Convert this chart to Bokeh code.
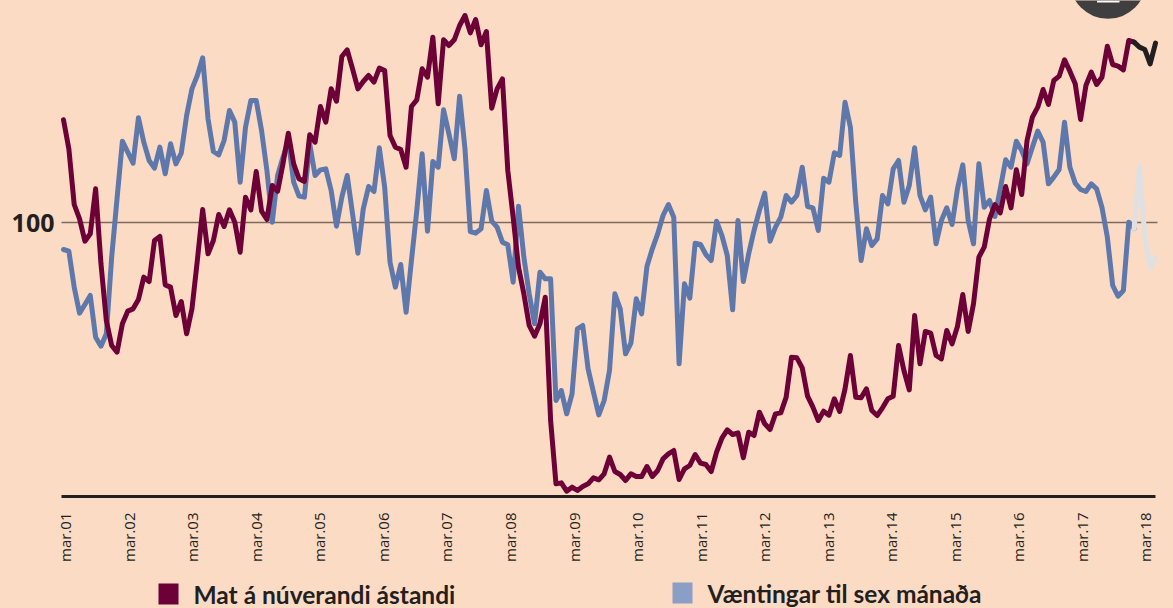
import math
from bokeh.embed import file_html
from bokeh.resources import INLINE
from bokeh.plotting import figure
from bokeh.layouts import column
from bokeh.core.properties import value
from bokeh.models import Range1d, FixedTicker, LinearAxis, GlobalInlineStyleSheet

BG = "#FCDBC5"
MAROON = "#6E0038"
BLUE = "#5E78AC"
SWATCH_BLUE = "#8A9EC6"
DARK = "#231F20"
PALE = "#E0E0E2"

years = ["01","02","03","04","05","06","07","08","09","10","11","12","13","14","15","16","17","18"]
tick_labels = ["mar." + y for y in years]
legend_labels = ["Mat á núverandi ástandi", "Væntingar til sex mánaða"]

# Mat a nuverandi astandi, monthly from March 2001
current = [
 130.8,122.1,105.4,101.1,94.4,96.6,110.1,87.6,70.6,63.1,61.1,69.6,
 73.4,74.1,76.9,83.6,82.3,94.6,95.8,81.3,80.6,72.1,76.3,66.6,
 74.1,88.6,103.9,90.6,94.6,102.4,98.8,103.8,100.1,91.1,107.6,103.8,
 115.3,103.4,100.9,111.1,109.4,117.6,126.8,117.6,113.1,112.3,126.3,124.1,
 134.8,130.1,140.1,136.4,149.8,151.8,146.1,140.1,142.3,144.1,142.1,146.3,
 145.6,126.1,122.6,121.9,116.6,134.8,136.8,146.1,143.6,155.6,135.6,154.8,
 153.1,154.8,159.1,162.1,156.9,160.9,153.3,157.3,134.3,140.1,143.1,115.6,
 101.6,86.6,78.6,69.1,65.9,69.6,77.6,40.6,21.6,21.9,19.4,20.6,
 19.6,20.8,21.6,23.4,22.8,24.6,29.6,25.3,24.4,22.6,24.6,23.8,
 23.8,26.8,23.8,25.6,29.1,30.6,31.6,22.9,26.1,27.1,30.4,27.8,
 27.4,25.3,31.1,35.3,37.8,36.4,36.9,29.4,37.1,36.1,43.1,39.6,
 37.9,42.6,42.9,47.6,59.6,59.4,56.4,47.9,44.6,40.6,43.4,42.2,
 47.1,43.3,50.1,60.1,47.6,47.4,50.1,43.6,42.1,44.4,47.1,47.9,
 63.1,55.6,49.8,72.1,57.6,67.3,66.8,60.1,59.1,67.6,63.6,68.8,
 78.4,67.3,75.6,89.6,92.6,101.1,105.4,102.9,110.8,104.4,115.8,108.4,
 124.6,131.6,134.6,139.9,135.4,142.6,143.9,148.8,145.4,141.6,130.9,141.1,
 145.1,141.4,143.6,152.9,147.4,146.9,145.8,154.6,154.1,152.6,151.9,147.6,
 153.8,
]

# Vaentingar til sex manada, monthly from March 2001
expected = [
 91.9,91.4,80.6,72.8,75.4,78.1,65.6,62.9,66.6,89.6,107.1,124.4,
 121.1,117.8,131.4,124.1,118.6,116.3,122.6,114.6,123.6,117.6,120.8,132.1,
 140.1,144.1,149.4,131.1,121.3,120.3,124.6,133.6,130.1,112.1,128.6,136.6,
 136.6,127.6,115.6,100.1,114.1,119.6,124.6,112.1,107.9,107.6,123.6,114.1,
 115.8,116.1,109.6,98.9,107.6,114.1,102.6,90.8,104.1,110.8,109.3,122.4,
 110.6,88.1,80.6,87.4,73.1,88.6,103.6,120.6,97.4,118.3,116.6,133.8,
 126.6,119.1,137.9,122.1,97.3,96.8,98.1,109.6,100.4,98.6,94.1,93.3,
 82.1,104.9,89.6,78.6,69.6,85.1,83.1,83.1,46.6,49.6,42.6,48.6,
 68.1,69.1,56.1,49.1,42.3,46.6,55.6,78.6,74.1,60.6,63.8,77.1,
 72.6,86.9,92.1,96.6,102.1,105.4,101.6,57.6,81.6,77.3,93.8,93.4,
 90.4,88.6,100.4,96.1,90.1,73.8,100.6,82.3,90.6,97.6,103.6,108.8,
 94.4,98.6,101.6,108.1,106.1,108.1,116.6,104.8,104.4,97.6,113.3,112.1,
 120.9,120.1,136.1,128.6,106.1,88.6,98.1,93.1,95.1,108.1,105.6,116.1,
 118.6,106.1,111.1,122.4,108.1,103.8,107.6,93.6,100.6,104.4,99.4,110.1,
 117.3,100.6,93.6,117.6,104.6,106.6,101.8,110.1,118.8,116.6,124.4,121.6,
 117.6,122.6,127.4,124.1,111.6,113.6,115.9,130.1,116.6,111.8,109.9,109.3,
 111.6,110.1,104.5,95.6,81.1,77.9,79.6,100.1,98.2,117.1,95.6,86.5,
 89.5,
]

months = list(range(len(current)))
LAST = 200  # the final months are overdrawn in a lighter / darker tone

# Layout: month 0 sits at page x=63, 5.353 px per month; 10/3 px per index unit
PX_PER_MONTH = 5.353
W, H = 1173, 608
LEFT, FRAME_H, TOP_H = 58, 496, 572
def xd(px): return (px - 63) / PX_PER_MONTH
def yd(py): return 166.6 - py * 0.3

p = figure(width=W, height=TOP_H, output_backend="svg", toolbar_location=None,
           x_range=Range1d(xd(LEFT), xd(W)), y_range=Range1d(yd(FRAME_H), yd(0)),
           x_axis_location=None, y_axis_location=None,
           min_border_left=LEFT, min_border_right=0, min_border_top=0, min_border_bottom=TOP_H - FRAME_H,
           background_fill_color=BG, border_fill_color=BG, outline_line_color=None,
           stylesheets=[GlobalInlineStyleSheet(css=f"html,body{{margin:0;padding:0;overflow:hidden;background:{BG}}}")])
p.grid.visible = False

# Axes
ticks = [round(xd(64.6 + 63.55 * k), 3) for k in range(len(tick_labels))]
xax = LinearAxis(ticker=FixedTicker(ticks=ticks),
                 major_label_overrides=dict(zip(ticks, tick_labels)),
                 major_label_orientation=math.pi / 2,
                 major_label_standoff=10,
                 major_label_text_font="Open Sans",
                 major_label_text_font_size="15px",
                 major_label_text_color=DARK,
                 major_tick_line_color=None, minor_tick_line_color=None,
                 axis_line_color=DARK, axis_line_width=3,
                 bounds=(xd(61), xd(1155)))
p.add_layout(xax, "below")

yax = LinearAxis(ticker=FixedTicker(ticks=[100]),
                 major_label_standoff=-2,
                 major_label_text_font="Open Sans",
                 major_label_text_font_style="bold",
                 major_label_text_font_size="25px",
                 major_label_text_color=DARK,
                 major_tick_line_color=None, minor_tick_line_color=None,
                 axis_line_color=None)
p.add_layout(yax, "left")

# 100 reference line
p.segment(x0=[xd(61)], x1=[xd(1157)], y0=[100], y1=[100], line_color="#7C6A5E", line_width=1.5)

# Series
style = dict(line_width=5, line_join="round", line_cap="round")
p.line(months[:LAST + 1], expected[:LAST + 1], line_color=BLUE, **style)
p.line(months[LAST:], expected[LAST:], line_color=PALE, **style)
p.line(months[:LAST + 1], current[:LAST + 1], line_color=MAROON, **style)
p.line(months[LAST:], current[LAST:], line_color=DARK, **style)

# Badge cut off at the top
p.scatter(x=[xd(1107.5)], y=[yd(-20)], marker="circle", size=76.6, fill_color="#403F40", line_color=None)
p.quad(left=[xd(1096.5)], right=[xd(1119)], top=[yd(0)], bottom=[yd(2)], fill_color="#FFFFFF", line_color=None)

# Legend strip: a second figure in page pixels under the chart (frames align with the chart's)
q = figure(width=W, height=H - TOP_H, output_backend="svg", toolbar_location=None,
           x_range=Range1d(LEFT, W), y_range=Range1d(H, TOP_H),
           x_axis_location=None, y_axis_location=None,
           min_border_left=LEFT, min_border_right=0, min_border_top=0, min_border_bottom=0,
           background_fill_color=BG, border_fill_color=BG, outline_line_color=None)
q.grid.visible = False
q.quad(left=[158, 672], right=[178, 692], top=[583, 582], bottom=[604, 603],
       fill_color=[MAROON, SWATCH_BLUE], line_color=None)
q.text(x=[193, 707], y=[593.5, 593], text=legend_labels, text_baseline="middle",
       text_font=value("Lato"), text_font_style="bold", text_font_size="24.5px", text_color=DARK)

open("out.html", "w").write(file_html(column(p, q, spacing=0), INLINE))
